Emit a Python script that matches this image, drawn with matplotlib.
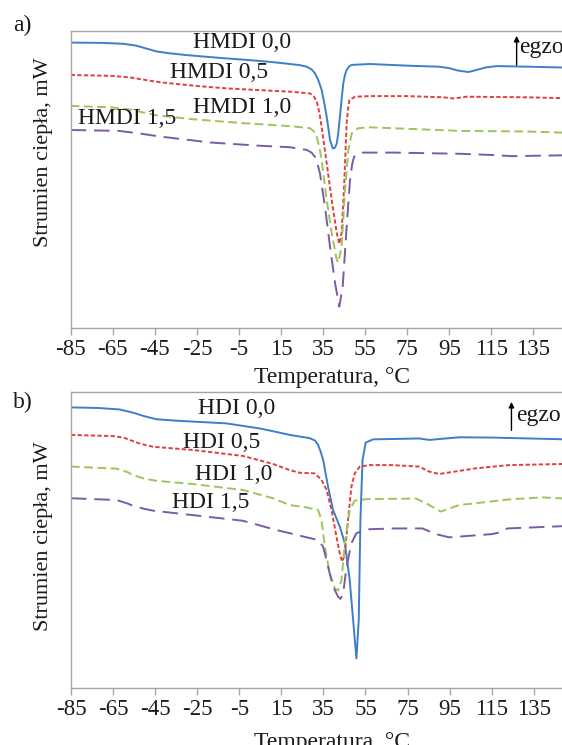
import numpy as np
import matplotlib.pyplot as plt

plt.rcParams['font.family'] = ['Liberation Serif', 'DejaVu Serif']
plt.rcParams['axes.unicode_minus'] = False

# ---------- dane: (temperatura, °C ; strumien ciepla, j. umowne) ----------
xticks = list(range(-85, 150, 20))

# a) HMDI
hmdi_00 = [(-85, 9.60), (-70, 9.59), (-60, 9.56), (-54, 9.50), (-48, 9.38), (-44, 9.30), (-38, 9.24),
           (-30, 9.18), (-15, 9.09), (0, 9.01), (10, 8.95), (19.3, 8.88), (24, 8.84), (27.2, 8.79),
           (29.5, 8.70), (31.1, 8.57), (32.8, 8.32), (34.3, 8.01), (35.6, 7.55), (36.7, 7.11),
           (38.3, 6.32), (39.6, 6.04), (40.6, 6.06), (41.5, 6.21), (42.2, 6.55), (43.0, 7.11),
           (43.8, 7.70), (44.6, 8.23), (45.4, 8.52), (46.2, 8.68), (47.4, 8.80), (48.6, 8.85),
           (57.3, 8.88), (76.4, 8.82), (90, 8.79), (95, 8.74), (99, 8.66), (104.1, 8.61), (108, 8.68),
           (112, 8.76), (117.6, 8.81), (131.8, 8.79), (150, 8.76)]

hmdi_05 = [(-85, 8.51), (-65, 8.48), (-56, 8.42), (-50, 8.35), (-44, 8.28), (-37.8, 8.23), (-25, 8.14),
           (-10.8, 8.06), (5, 8.00), (19.3, 7.95), (28.8, 7.89), (30.5, 7.80), (32.0, 7.61), (33.2, 7.25),
           (34.3, 6.77), (36.7, 5.54), (39.1, 4.31), (41.5, 3.19), (42.7, 2.83), (43.8, 3.19),
           (44.9, 4.64), (46.2, 6.89), (46.9, 7.40), (47.5, 7.67), (50.2, 7.78), (57.3, 7.80),
           (75, 7.80), (92.2, 7.76), (97, 7.72), (103.3, 7.78), (131.8, 7.76), (150, 7.73)]

hmdi_10 = [(-85, 7.47), (-65, 7.42), (-56, 7.34), (-50, 7.24), (-44, 7.15), (-26.7, 7.02), (-2.9, 6.89),
           (19.3, 6.79), (28.8, 6.72), (30.5, 6.62), (32.0, 6.43), (33.2, 6.08), (34.3, 5.65),
           (36.7, 4.31), (39.1, 3.19), (41.5, 2.29), (42.2, 2.20), (43.8, 2.73), (45.4, 4.64),
           (47.0, 5.99), (48.6, 6.55), (51.7, 6.72), (57.3, 6.75), (100.1, 6.63), (131.8, 6.61),
           (150, 6.57)]

hmdi_15 = [(-85, 6.66), (-62, 6.63), (-52, 6.54), (-42.5, 6.44), (-18.7, 6.24), (5, 6.13), (19.3, 6.08),
           (27.2, 5.99), (29.5, 5.90), (31.1, 5.76), (32.4, 5.50), (33.5, 5.20), (35.9, 4.08),
           (38.3, 2.73), (40.7, 1.50), (42.7, 0.72), (44.3, 1.39), (46.2, 3.41), (47.8, 4.98),
           (48.8, 5.50), (49.7, 5.76), (52.5, 5.90), (68.4, 5.90), (100.1, 5.86), (115, 5.82),
           (125, 5.78), (133.4, 5.79), (150, 5.81)]

# b) HDI
hdi_00 = [(-85, 9.47), (-72, 9.45), (-62, 9.40), (-55.4, 9.29), (-50, 9.17), (-44.4, 9.07), (-34.9, 9.02),
          (-11.2, 8.93), (4.6, 8.76), (12, 8.65), (19.0, 8.54), (28.5, 8.43), (31.0, 8.35), (32.5, 8.20),
          (33.8, 7.95), (34.9, 7.69), (37.2, 6.79), (39.6, 6.00), (42.8, 5.44), (45.2, 4.88),
          (47.5, 3.64), (49.4, 2.06), (50.7, 0.99), (51.8, 2.29), (52.6, 5.67), (53.6, 7.69),
          (55.1, 8.28), (58.6, 8.39), (80.5, 8.42), (85.3, 8.37), (99.5, 8.46), (115.3, 8.45),
          (150, 8.39)]

hdi_05 = [(-85, 8.54), (-64.9, 8.50), (-60, 8.45), (-57.0, 8.37), (-52, 8.24), (-45.9, 8.14), (-27.0, 8.03),
          (-3.3, 7.83), (11.0, 7.56), (19.0, 7.35), (23.8, 7.26), (30.9, 7.24), (34.1, 7.02), (36.5, 6.68),
          (38.9, 6.00), (41.2, 5.10), (43.1, 4.43), (44.1, 4.26), (45.2, 4.54), (46.7, 5.67), (48.3, 6.79),
          (49.9, 7.24), (52.3, 7.47), (57.0, 7.52), (67.9, 7.52), (80.5, 7.47), (85.3, 7.30), (90.0, 7.22),
          (107.4, 7.41), (123.2, 7.52), (150, 7.56)]

hdi_10 = [(-85, 7.47), (-63.3, 7.40), (-58, 7.28), (-55.4, 7.18), (-50, 7.06), (-44.4, 6.99), (-27.0, 6.88),
          (-3.3, 6.68), (11.0, 6.40), (19.0, 6.17), (27.0, 6.09), (32.5, 6.00), (34.1, 5.67), (35.7, 4.76),
          (38.0, 3.86), (40.4, 3.36), (42.0, 3.28), (43.6, 3.64), (45.2, 4.88), (47.5, 6.00), (49.9, 6.32),
          (55.5, 6.37), (79.0, 6.39), (83.8, 6.23), (90.8, 5.95), (99.5, 6.17), (123.2, 6.36),
          (139.0, 6.43), (150, 6.39)]

hdi_15 = [(-85, 6.40), (-63.3, 6.34), (-58, 6.22), (-55.4, 6.14), (-50, 6.04), (-45.9, 5.98), (-27.0, 5.83),
          (-3.3, 5.64), (12.5, 5.33), (19.0, 5.22), (27.0, 5.08), (32.5, 4.99), (34.9, 4.76), (37.2, 4.09),
          (39.6, 3.41), (42.0, 3.07), (43.1, 3.00), (44.4, 3.19), (46.0, 4.09), (48.3, 4.88), (50.7, 5.22),
          (55.5, 5.35), (67.9, 5.38), (82.1, 5.38), (88.4, 5.19), (94.8, 5.08), (115.3, 5.19),
          (118.5, 5.24), (122.4, 5.38), (150, 5.46)]

# ---------- styl ----------
colors = ['#3d7fc9', '#e0403c', '#9cc55a', '#7a5ba8']
dashes = [None, (2.2, 1.2), (4.5, 2.3), (8, 4)]
spine_col = '#a6a6a6'


def draw_panel(ax, series, names, label_pos, egzo):
    for pts, c, d in zip(series, colors, dashes):
        t, q = zip(*pts)
        ln, = ax.plot(t, q, color=c, lw=1.4, solid_joinstyle='round', dash_joinstyle='round')
        if d is not None:
            ln.set_dashes(d)
    for name, (x, y) in zip(names, label_pos):
        ax.text(x, y, name, fontsize=17, ha='left', va='center', color='#1a1a1a')
    ax.set_xlim(-85, 150)
    ax.set_ylim(0, 10)
    ax.set_xticks(xticks)
    ax.set_yticks([])
    ax.tick_params(axis='x', direction='out', length=5, width=1, color=spine_col,
                   labelsize=16.5, pad=3, labelcolor='#1a1a1a')
    for s in ax.spines.values():
        s.set_color(spine_col)
        s.set_linewidth(1.0)
    # strzalka "egzo"
    ex, ey0, ey1, tx, ty = egzo
    ax.annotate('', xy=(ex, ey1), xytext=(ex, ey0),
                arrowprops=dict(arrowstyle='-|>', color='black', lw=1.0, mutation_scale=8))
    ax.text(tx, ty, 'egzo', fontsize=17, ha='left', va='center', color='#1a1a1a')


W, H = 562, 745
fig = plt.figure(figsize=(W / 100, H / 100), dpi=100)

ax1 = fig.add_axes([70.7 / W, 1 - 328 / H, 494.3 / W, 297.3 / H])
ax2 = fig.add_axes([71 / W, 1 - 687.7 / H, 494.3 / W, 296 / H])

draw_panel(ax1, [hmdi_00, hmdi_05, hmdi_10, hmdi_15],
           ['HMDI 0,0', 'HMDI 0,5', 'HMDI 1,0', 'HMDI 1,5'],
           [(-26.9, 9.59), (-37.8, 8.58), (-26.9, 7.43), (-81.5, 7.06)],
           (127.0, 8.75, 9.92, 128.1, 9.42))

draw_panel(ax2, [hdi_00, hdi_05, hdi_10, hdi_15],
           ['HDI 0,0', 'HDI 0,5', 'HDI 1,0', 'HDI 1,5'],
           [(-24.7, 9.42), (-31.8, 8.30), (-26.1, 7.19), (-37.0, 6.24)],
           (124.4, 8.60, 9.75, 126.4, 9.21))

# opisy osi
fig.text(332 / W, 1 - 367 / H, 'Temperatura, °C', fontsize=17, ha='center', va='top', color='#1a1a1a')
fig.text(332 / W, 1 - 732 / H, 'Temperatura, °C', fontsize=17, ha='center', va='top', color='#1a1a1a')
fig.text(44 / W, 1 - 152 / H, 'Strumien ciepła, mW', fontsize=16, rotation=90,
         ha='center', va='center', color='#1a1a1a')
fig.text(44 / W, 1 - 536.5 / H, 'Strumien ciepła, mW', fontsize=16, rotation=90,
         ha='center', va='center', color='#1a1a1a')
fig.text(13 / W, 1 - 25 / H, 'a)', fontsize=17, ha='left', va='center', color='#1a1a1a')
fig.text(13 / W, 1 - 402 / H, 'b)', fontsize=17, ha='left', va='center', color='#1a1a1a')

fig.savefig('out.png', dpi=100)
